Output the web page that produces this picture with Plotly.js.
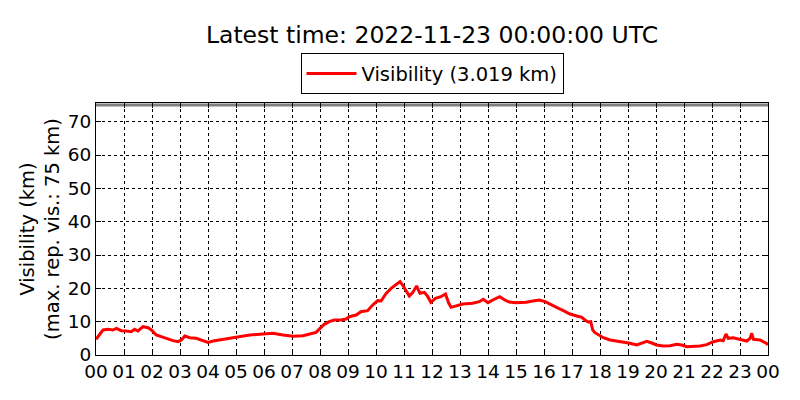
<!DOCTYPE html>
<html>
<head>
<meta charset="utf-8">
<script src="https://cdn.plot.ly/plotly-3.0.1.min.js"></script>
<style>html,body{margin:0;padding:0;background:#fff;}#chart{width:800px;height:400px;}</style>
</head>
<body>
<div id="chart"></div>
<script>
// Hours since 2022-11-22 00:00 UTC
const hours = [0.00,0.13,0.25,0.43,0.60,0.73,0.90,1.08,1.26,1.38,1.50,1.68,1.86,1.98,2.15,2.33,2.50,2.75,2.93,3.05,3.17,3.35,3.58,3.82,4.00,4.18,4.42,4.77,5.13,5.49,5.85,6.32,6.68,7.04,7.39,7.75,7.86,8.00,8.15,8.33,8.51,8.75,8.93,9.05,9.29,9.46,9.70,9.88,10.06,10.18,10.36,10.54,10.65,10.77,10.86,10.95,11.07,11.19,11.31,11.45,11.57,11.73,11.85,11.96,12.12,12.32,12.48,12.60,12.68,12.86,13.10,13.45,13.69,13.83,14.00,14.17,14.42,14.60,14.76,15.00,15.36,15.60,15.83,16.04,16.21,16.45,16.69,16.93,17.17,17.35,17.46,17.58,17.67,17.74,17.82,17.94,18.12,18.36,18.60,18.83,19.07,19.31,19.49,19.67,19.85,20.02,20.26,20.50,20.74,20.92,21.10,21.33,21.57,21.81,22.05,22.29,22.40,22.50,22.58,22.76,23.00,23.24,23.36,23.42,23.48,23.71,23.95,24.00];
const visibility = [4.7,6.0,7.5,7.7,7.5,8.0,7.3,7.2,7.0,7.7,7.2,8.5,8.2,7.5,6.0,5.5,5.0,4.3,4.0,4.5,5.7,5.2,5.0,4.3,3.8,4.2,4.5,4.9,5.5,6.0,6.2,6.5,6.0,5.6,5.8,6.5,6.8,8.0,9.2,10.0,10.5,10.5,10.8,11.5,12.0,13.0,13.3,15.0,16.3,16.2,18.5,20.0,20.7,21.3,22.0,21.0,19.5,17.7,18.7,20.7,18.5,18.8,17.5,15.8,17.0,17.5,18.3,15.5,14.3,14.8,15.3,15.5,16.0,16.7,15.7,16.5,17.5,16.5,15.9,15.7,15.8,16.2,16.5,16.0,15.2,14.3,13.3,12.3,11.7,11.3,10.5,9.9,10.0,7.5,6.7,6.0,5.2,4.5,4.2,3.8,3.5,3.0,3.5,4.1,3.6,3.0,2.7,2.8,3.2,3.0,2.5,2.5,2.7,3.1,4.0,4.5,4.3,6.3,5.0,5.2,4.7,4.2,5.0,6.5,4.7,4.5,3.5,3.0];
const tickHours = [0,1,2,3,4,5,6,7,8,9,10,11,12,13,14,15,16,17,18,19,20,21,22,23,24];
const tickLabels = ["00","01","02","03","04","05","06","07","08","09","10","11","12","13","14","15","16","17","18","19","20","21","22","23","00"];
const yTicks = [0,10,20,30,40,50,60,70];
const maxRepVis = 75;
const latestValue = 3.019;
const titleText = "Latest time: 2022-11-23 00:00:00 UTC";

const font = "DejaVu Sans, sans-serif";

const trace = {
  x: hours,
  y: visibility,
  type: "scatter",
  mode: "lines",
  name: "Visibility (" + latestValue.toFixed(3) + " km)",
  line: {color: "#ff0000", width: 3}
};

const axisCommon = {
  ticks: "inside",
  ticklen: 5,
  tickwidth: 1,
  tickcolor: "#000",
  showline: true,
  linecolor: "#000",
  linewidth: 1,
  mirror: "ticks",
  showgrid: true,
  gridcolor: "#000",
  gridwidth: 1,
  griddash: "dot",
  zeroline: false,
  tickfont: {family: font, size: 18.5, color: "#000"},
  fixedrange: true
};

const layout = {
  width: 800,
  height: 400,
  paper_bgcolor: "#ffffff",
  plot_bgcolor: "#ffffff",
  margin: {l: 96, r: 32, t: 103, b: 45, pad: 0},
  font: {family: font, color: "#000000", size: 18.5},
  title: {
    text: titleText,
    font: {family: font, size: 23.5, color: "#000"},
    x: 0.5, xref: "paper", xanchor: "center",
    y: 1 - 35/400, yref: "container", yanchor: "middle"
  },
  showlegend: true,
  legend: {
    x: 0.5, xanchor: "center", xref: "paper",
    y: 1.197, yanchor: "top", yref: "paper",
    bordercolor: "#000000", borderwidth: 1,
    bgcolor: "#ffffff",
    itemwidth: 50,
    font: {family: font, size: 19.5, color: "#000"}
  },
  xaxis: Object.assign({}, axisCommon, {
    range: [0, 24],
    tickmode: "array",
    tickvals: tickHours,
    ticktext: tickLabels
  }),
  yaxis: Object.assign({}, axisCommon, {
    range: [0, 75.6],
    tickmode: "array",
    tickvals: yTicks,
    title: {
      text: "Visibility (km)<br>(max. rep. vis.: " + maxRepVis + " km)",
      font: {family: font, size: 19.5, color: "#000"},
      standoff: 2
    },
    automargin: false
  }),
  shapes: [{
    type: "line", xref: "paper", yref: "y",
    x0: 0, x1: 1, y0: maxRepVis, y1: maxRepVis,
    line: {color: "#808080", width: 3},
    layer: "below"
  }]
};

Plotly.newPlot("chart", [trace], layout, {displayModeBar: false, staticPlot: true});
</script>
</body>
</html>
